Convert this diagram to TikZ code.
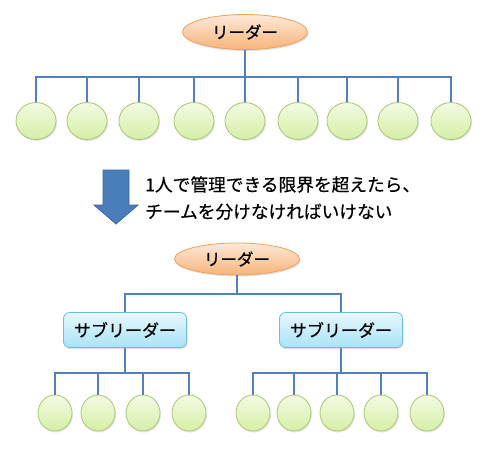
\documentclass[tikz,border=0pt]{standalone}
\usepackage{fontspec}
\newfontfamily\jp[FakeBold=0.5]{Noto Sans CJK JP}
\usetikzlibrary{shapes.geometric,shadows}
\definecolor{linec}{HTML}{4F81BD}
\definecolor{arrowc}{HTML}{4A7EBB}
\definecolor{arrowd}{HTML}{3A679C}
\definecolor{kidtop}{HTML}{F3FBE3}
\definecolor{kidbot}{HTML}{D5EFA6}
\definecolor{kiddraw}{HTML}{A9C672}
\definecolor{ldtop}{HTML}{FDE9D9}
\definecolor{ldbot}{HTML}{F8B47A}
\definecolor{lddraw}{HTML}{F2A05C}
\definecolor{sbtop}{HTML}{E6F8FD}
\definecolor{sbbot}{HTML}{A9E3F6}
\definecolor{sbdraw}{HTML}{6BBFDC}
\tikzset{
  leader/.style={ellipse, draw=lddraw, line width=0.8pt,
    top color=ldtop, bottom color=ldbot, minimum width=125pt,
    minimum height=35pt, inner sep=0pt, font=\jp\fontsize{16.5}{16.5}\selectfont,
    drop shadow={opacity=0.25, shadow xshift=1pt, shadow yshift=-1.5pt}},
  sub/.style={rectangle, rounded corners=6pt, draw=sbdraw, line width=0.8pt,
    top color=sbtop, bottom color=sbbot, minimum width=123pt,
    minimum height=35pt, inner sep=0pt, font=\jp\fontsize{17}{17}\selectfont,
    drop shadow={opacity=0.25, shadow xshift=1pt, shadow yshift=-1.5pt}},
  kid/.style={ellipse, draw=kiddraw, line width=0.8pt,
    top color=kidtop, bottom color=kidbot,
    minimum width=40pt, minimum height=37pt, inner sep=0pt,
    drop shadow={opacity=0.2, shadow xshift=1pt, shadow yshift=-1.5pt}},
  kidsmall/.style={kid, minimum width=34pt, minimum height=36pt},
  conn/.style={draw=linec, line width=1.1pt},
}
\begin{document}
\begin{tikzpicture}[x=1pt,y=-1pt]
\useasboundingbox (0,0) rectangle (490,450);
% top tree
\node[leader] (L1) at (245,32) {リーダー};
\coordinate (b1) at (245,77);
\foreach \i/\x in {1/36,2/87,3/139,4/194,5/245,6/298,7/347,8/398,9/451}{
  \node[kid] (k\i) at (\x,121) {};
}
\draw[conn] (L1.south) -- (b1);
\foreach \i in {1,...,9}{ \draw[conn] (k\i.north) |- (b1); }
% arrow
\draw[fill=arrowc, draw=arrowd, line width=0.8pt]
  (103,170) -- (129,170) -- (129,205) -- (138,205) -- (116,224) -- (94,205) -- (103,205) -- cycle;
\node[anchor=west, align=left, font=\jp\fontsize{17.7}{27}\selectfont, inner sep=0pt] (cap) at (145,198)
  {1人で管理できる限界を超えたら、\\チームを分けなければいけない};
% bottom tree
\node[leader, minimum height=32pt] (L2) at (237,259) {リーダー};
\coordinate (b2) at (237,294);
\node[sub] (S1) at (125,330) {サブリーダー};
\node[sub] (S2) at (341,330) {サブリーダー};
\draw[conn] (L2.south) -- (b2);
\draw[conn] (S1.north) |- (b2);
\draw[conn] (S2.north) |- (b2);
\coordinate (c1) at (125,373);
\coordinate (c2) at (341,373);
\draw[conn] (S1.south) -- (c1);
\draw[conn] (S2.south) -- (c2);
\foreach \i/\x in {1/55,2/98,3/143,4/189}{
  \node[kidsmall] (a\i) at (\x,413) {};
  \draw[conn] (a\i.north) |- (c1);
}
\foreach \i/\x in {1/253,2/294,3/337,4/381,5/427}{
  \node[kidsmall] (r\i) at (\x,413) {};
  \draw[conn] (r\i.north) |- (c2);
}
\end{tikzpicture}
\end{document}
